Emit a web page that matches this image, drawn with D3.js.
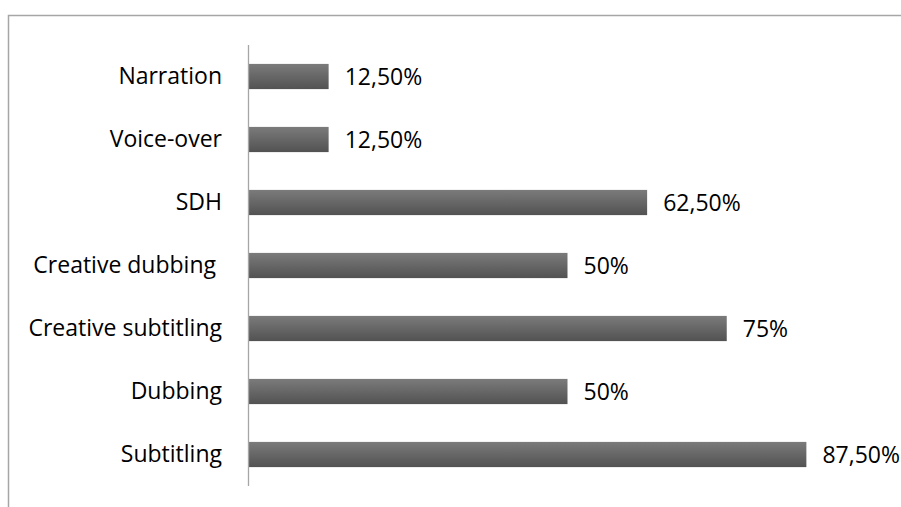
<!DOCTYPE html>
<html>
<head>
<meta charset="utf-8">
<script src="https://cdn.jsdelivr.net/npm/d3@7/dist/d3.min.js"></script>
<style>
  html, body { margin: 0; padding: 0; background: #fff; }
  svg { display: block; }
  text { font-family: "Open Sans", "Noto Sans", sans-serif; fill: #000; white-space: pre; }
</style>
</head>
<body>
<svg id="chart" width="901" height="507"></svg>
<script>
// Service categories, listed top to bottom
const categories = ["Narration", "Voice-over", "SDH", "Creative dubbing ", "Creative subtitling", "Dubbing", "Subtitling"];
// Share of respondents per category
const shares = [0.125, 0.125, 0.625, 0.5, 0.75, 0.5, 0.875];
// Value labels as printed beside each bar
const valueLabels = ["12,50%", "12,50%", "62,50%", "50%", "75%", "50%", "87,50%"];

const svg = d3.select("#chart");
const W = 901, H = 507;

// Outer frame (open to the right and bottom)
svg.append("rect")
  .attr("x", 8.5).attr("y", 15.5)
  .attr("width", W + 20).attr("height", H + 20)
  .attr("fill", "none")
  .attr("stroke", "#a6a6a6")
  .attr("stroke-width", 1.5);

const plot = { left: 248, top: 45, bottom: 486 };

const y = d3.scaleBand()
  .domain(categories)
  .range([plot.top, plot.bottom])
  .paddingInner(0.6)
  .paddingOuter(0.3);

const x = d3.scaleLinear()
  .domain([0, 1])
  .range([plot.left + 1, plot.left + 1 + 637]);

// Vertical shading on the bars
const defs = svg.append("defs");
const grad = defs.append("linearGradient")
  .attr("id", "barFill")
  .attr("x1", 0).attr("y1", 0).attr("x2", 0).attr("y2", 1);
grad.append("stop").attr("offset", "0%").attr("stop-color", "#7b7b7b");
grad.append("stop").attr("offset", "100%").attr("stop-color", "#525252");

const rows = categories.map((c, i) => ({ cat: c, v: shares[i], label: valueLabels[i] }));

svg.append("g").selectAll("rect")
  .data(rows)
  .join("rect")
  .attr("x", x(0))
  .attr("y", d => y(d.cat))
  .attr("width", d => x(d.v) - x(0))
  .attr("height", y.bandwidth())
  .attr("fill", "url(#barFill)");

// Category axis
const axis = svg.append("g")
  .attr("transform", `translate(${plot.left},0)`)
  .call(d3.axisLeft(y).tickSize(0).tickPadding(26));
axis.select(".domain").attr("stroke", "#a6a6a6").attr("stroke-width", 1.3)
  .attr("d", `M0.5,${plot.top}V${plot.bottom}`);
axis.selectAll(".tick text")
  .style("font-family", "'Open Sans', 'Noto Sans', sans-serif")
  .style("font-size", "23px")
  .attr("fill", "#000");

// Value labels
svg.append("g").selectAll("text")
  .data(rows)
  .join("text")
  .attr("x", d => x(d.v) + 16)
  .attr("y", d => y(d.cat) + y.bandwidth() / 2)
  .attr("dy", "0.35em")
  .style("font-size", "23px")
  .text(d => d.label);
</script>
</body>
</html>
